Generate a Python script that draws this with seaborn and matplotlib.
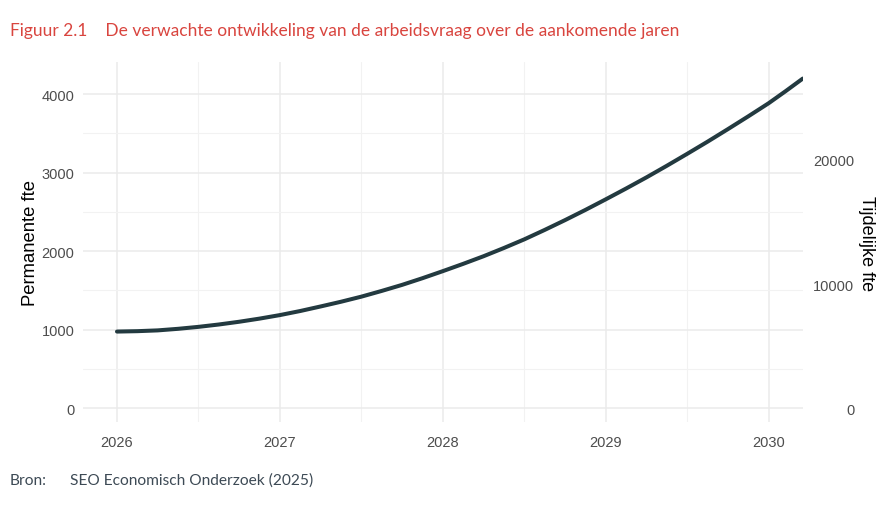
import matplotlib.pyplot as plt
import numpy as np
import pandas as pd
import seaborn as sns
from matplotlib.ticker import MultipleLocator

# values (permanent fte)
jaren = [2026.0, 2026.125, 2026.25, 2026.375, 2026.5, 2026.625, 2026.75, 2026.875,
         2027.0, 2027.125, 2027.25, 2027.375, 2027.5, 2027.625, 2027.75, 2027.875,
         2028.0, 2028.125, 2028.25, 2028.375, 2028.5, 2028.625, 2028.75, 2028.875,
         2029.0, 2029.125, 2029.25, 2029.375, 2029.5, 2029.625, 2029.75, 2029.875,
         2030.0, 2030.105, 2030.21]
permanent_fte = [975, 980, 990, 1010, 1035, 1065, 1100, 1140,
                 1185, 1237, 1295, 1355, 1420, 1493, 1570, 1655,
                 1745, 1838, 1935, 2040, 2150, 2270, 2395, 2525,
                 2660, 2798, 2940, 3088, 3240, 3395, 3555, 3718,
                 3885, 4040, 4200]
x_ticks = [2026, 2027, 2028, 2029, 2030]
left_ticks = [0, 1000, 2000, 3000, 4000]
right_ticks = [0, 10000, 20000]
# temporary fte axis is the permanent axis scaled by this factor
schaal = 6.325

df = pd.DataFrame({"jaar": jaren, "fte": permanent_fte})

sns.set_style("white")
plt.rcParams['font.family'] = ['Liberation Sans', 'DejaVu Sans']

fig = plt.figure(figsize=(8.9, 5.06), dpi=100)
ax = fig.add_axes([0.093, 0.164, 0.809, 0.711])

grid_col = "#ebebeb"
ax.set_xlim(2025.79, 2030.21)
ax.set_ylim(-178, 4408)
ax.xaxis.set_minor_locator(MultipleLocator(0.5))
ax.yaxis.set_minor_locator(MultipleLocator(500))
ax.set_xticks(x_ticks)
ax.set_yticks(left_ticks)
ax.grid(which="major", color=grid_col, linewidth=1.1)
ax.grid(which="minor", color="#f2f2f2", linewidth=0.8)
ax.set_axisbelow(True)

sns.lineplot(data=df, x="jaar", y="fte", ax=ax, color="#233a40", linewidth=2.9)

for s in ax.spines.values():
    s.set_visible(False)
ax.tick_params(which="both", length=0)
ax.tick_params(axis="x", pad=9, labelsize=10.5, labelcolor="#4d4d4d")
ax.tick_params(axis="y", pad=6, labelsize=10.5, labelcolor="#4d4d4d")
ax.set_xlabel("")
ax.set_ylabel("Permanente fte", fontsize=13.3, color="black", labelpad=2)

ax2 = ax.twinx()
ax2.set_ylim(-178 * schaal, 4408 * schaal)
ax2.set_yticks(right_ticks)
ax2.grid(False)
for s in ax2.spines.values():
    s.set_visible(False)
ax2.tick_params(length=0, pad=37, labelsize=10.5, labelcolor="#4d4d4d")
for lab in ax2.get_yticklabels():
    lab.set_ha("right")
ax2.set_ylabel("Tijdelijke fte", fontsize=13, color="black", rotation=-90, labelpad=15)

fig.text(10 / 890, 1 - 31 / 506, "Figuur 2.1    De verwachte ontwikkeling van de arbeidsvraag over de aankomende jaren",
         color="#d9453f", fontsize=12.5, family=["Lato", "DejaVu Sans"], va="center")
fig.text(10 / 890, 1 - 481 / 506, "Bron:", color="#3d4a55", fontsize=11.2,
         family=["Lato", "DejaVu Sans"], va="center")
fig.text(70 / 890, 1 - 481 / 506, "SEO Economisch Onderzoek (2025)", color="#3d4a55", fontsize=11.2,
         family=["Lato", "DejaVu Sans"], va="center")

fig.savefig("out.png", dpi=100)
